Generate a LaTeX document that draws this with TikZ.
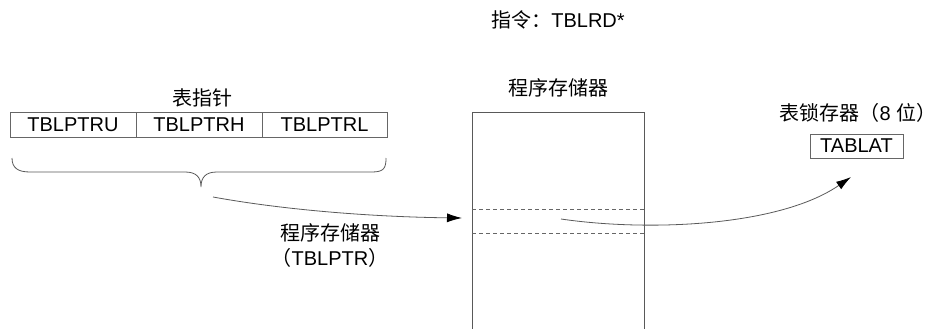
\documentclass[tikz,border=0pt]{standalone}
\usepackage{fontspec}
\setmainfont{Liberation Sans}
\newfontfamily\cjk{Noto Sans CJK SC}
\usetikzlibrary{arrows.meta}
\begin{document}
\begin{tikzpicture}[x=1pt,y=-1pt,
  txt/.style={font=\fontsize{20}{24}\selectfont, inner sep=0pt, text=black},
  reg/.style={draw=black!60, line width=0.8pt, minimum height=25pt, inner sep=0pt, font=\fontsize{20}{24}\selectfont},
  ln/.style={draw=black!65, line width=0.8pt},
  arr/.style={draw=black!65, line width=0.8pt, -{Latex[length=15pt,width=9pt,black]}},
  dsh/.style={draw=black!60, line width=0.7pt, dash pattern=on 4pt off 3pt}]
\useasboundingbox (0,0) rectangle (938,329);
% title
\node[txt] (instr) at (558,20) {{\cjk 指令：}TBLRD*};
% table pointer
\node[txt] (tplbl) at (202,98) {\cjk 表指针};
\node[reg, minimum width=126pt] (ru) at (73,124.5) {TBLPTRU};
\node[reg, minimum width=126pt] (rh) at (199,124.5) {TBLPTRH};
\node[reg, minimum width=125pt] (rl) at (324.5,124.5) {TBLPTRL};
% brace
\draw[ln] (12,158) .. controls (12,168) and (18,172) .. (30,172) -- (185,172)
  .. controls (196,172) and (201,177) .. (201,187)
  .. controls (201,177) and (206,172) .. (217,172) -- (372,172)
  .. controls (384,172) and (386,168) .. (386,158);
\coordinate (bstart) at (213,197);
\coordinate (memin) at (462,218);
\draw[arr] (bstart) .. controls (290,211) and (380,217) .. (memin);
\node[txt] (pm1) at (330,233) {\cjk 程序存储器};
\node[txt] (pm2) at (330,258) {{\cjk （}TBLPTR{\cjk ）}};
% memory
\node[txt] (memlbl) at (558,88) {\cjk 程序存储器};
\coordinate (mtl) at (472,112);
\coordinate (mtr) at (644,112);
\coordinate (mbl) at (472,330);
\coordinate (mbr) at (644,330);
\draw[ln] (mbl) -- (mtl) -- (mtr) -- (mbr);
\coordinate (d1l) at (472,209); \coordinate (d1r) at (644,209);
\coordinate (d2l) at (472,233); \coordinate (d2r) at (644,233);
\draw[dsh] (d1l) -- (d1r);
\draw[dsh] (d2l) -- (d2r);
% latch
\node[txt] (latlbl) at (858,113) {{\cjk 表锁存器（}8 {\cjk 位）}};
\node[reg, minimum width=93pt, minimum height=24pt] (tablat) at (856.5,146) {TABLAT};
\coordinate (rowc) at (561,219);
\coordinate (lattip) at (851,177);
\draw[arr] (rowc) .. controls (650,232) and (780,226) .. (lattip);
\end{tikzpicture}
\end{document}
